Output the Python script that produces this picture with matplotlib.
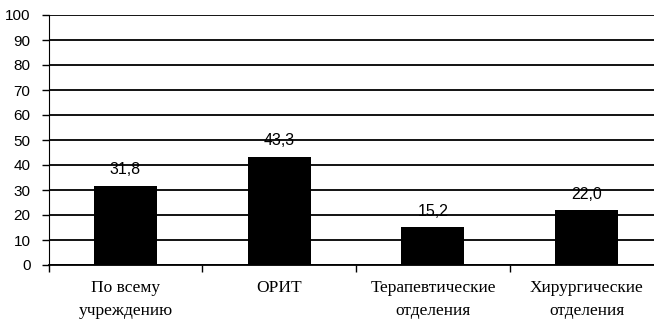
import numpy as np
import matplotlib
matplotlib.use('Agg')
import matplotlib.pyplot as plt

# data
categories = ['По всему\nучреждению', 'ОРИТ', 'Терапевтические\nотделения', 'Хирургические\nотделения']
values = [31.8, 43.3, 15.2, 22.0]
value_labels = ['31,8', '43,3', '15,2', '22,0']
yticks = list(range(0, 101, 10))

fig = plt.figure(figsize=(6.54, 3.25), dpi=100)
# axes runs a bit past the right edge of the picture, as in the original
ax = fig.add_axes([48.6 / 654, 60 / 325, 615 / 654, 250 / 325])

x = np.arange(len(categories))
ax.bar(x, values, width=0.41, color='black', zorder=3)

for xi, v, lab in zip(x, values, value_labels):
    ax.annotate(lab, (xi, v), xytext=(0, 6), textcoords='offset points',
                ha='center', va='bottom', fontsize=11.5, family='Liberation Sans')

ax.set_xlim(-0.5, len(categories) - 0.5)
ax.set_ylim(0, 100)
ax.set_yticks(yticks)
ax.set_yticklabels([str(t) for t in yticks], family='Liberation Sans', fontsize=11)
ax.tick_params(axis='y', direction='out', length=5, width=1, pad=8)
ax.yaxis.grid(True, color='black', linewidth=1.3, zorder=0)
ax.set_axisbelow(True)

# boundary ticks on the x axis, labels sit in between
ax.set_xticks(np.arange(-0.5, len(categories), 1.0))
ax.set_xticklabels([])
ax.tick_params(axis='x', which='major', direction='out', length=5, width=1)
ax.set_xticks(x, minor=True)
ax.set_xticklabels(categories, minor=True, family='Liberation Serif', fontsize=12.5,
                   linespacing=1.55)
ax.tick_params(axis='x', which='minor', length=0, pad=11)

ax.spines['top'].set_visible(False)
ax.spines['right'].set_visible(False)
ax.spines['left'].set_color('black')
ax.spines['bottom'].set_color('black')
ax.spines['bottom'].set_linewidth(1.3)

fig.savefig('out.png', dpi=100)
